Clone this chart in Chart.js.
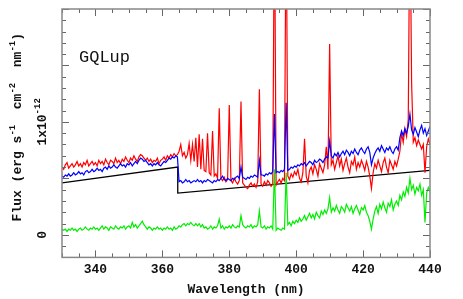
<!DOCTYPE html>
<html>
<head>
<meta charset="utf-8">
<script src="https://cdn.jsdelivr.net/npm/chart.js@4.4.1/dist/chart.umd.min.js"></script>
<style>
  html, body { margin: 0; padding: 0; background: #fff; }
  #wrap { width: 463px; height: 299px; }
</style>
</head>
<body>
<div id="wrap"><canvas id="spec"></canvas></div>
<script>
// Spectrum sampled every 0.5 nm from 330 to 440 nm, flux in units of 1e-12
const waveStart = 330;
const waveStep = 0.5;

// observed spectrum (red)
const redFlux = [
  0.60,0.58,0.62,0.64,0.59,0.61,0.63,0.60,0.62,0.65,0.61,0.63,0.60,0.64,0.62,0.66,0.61,0.63,0.65,0.62,
  0.64,0.61,0.66,0.63,0.65,0.62,0.67,0.64,0.62,0.66,0.65,0.63,0.68,0.64,0.66,0.63,0.67,0.65,0.69,0.66,
  0.64,0.68,0.66,0.70,0.67,0.65,0.69,0.71,0.70,0.68,0.66,0.68,0.65,0.67,0.64,0.66,0.65,0.68,0.63,0.66,
  0.67,0.69,0.66,0.70,0.68,0.71,0.69,0.72,0.70,0.71,0.74,0.80,0.70,0.73,0.68,0.71,0.81,0.66,0.80,0.65,
  0.86,0.60,0.89,0.58,0.85,0.57,0.56,0.90,0.55,0.53,0.92,0.52,0.54,0.50,1.12,0.50,0.48,0.51,0.47,0.49,
  1.15,0.48,0.46,0.50,0.47,0.45,0.48,1.18,0.46,0.44,0.42,0.41,0.44,0.46,0.43,0.45,0.42,0.47,1.29,0.45,
  0.43,0.47,0.44,0.48,0.46,0.43,0.45,3.00,0.44,0.47,0.49,0.46,0.50,0.48,3.00,0.52,0.49,0.54,0.51,0.56,
  0.53,0.58,0.50,0.47,0.55,0.85,0.52,0.46,0.57,0.60,0.54,0.62,0.58,0.52,0.63,0.59,0.55,0.62,0.78,0.58,
  1.69,0.62,0.66,0.58,0.64,0.70,0.61,0.67,0.57,0.63,0.68,0.60,0.55,0.65,0.62,0.69,0.58,0.64,0.60,0.66,
  0.62,0.57,0.65,0.60,0.52,0.41,0.55,0.63,0.59,0.66,0.61,0.56,0.64,0.68,0.60,0.55,0.66,0.62,0.58,0.65,
  0.61,0.67,0.74,0.90,0.82,0.94,0.87,1.02,3.00,1.35,0.82,0.86,0.79,0.84,0.80,0.76,0.80,0.55,0.78,0.85,
  0.80
];

// model / comparison spectrum (blue)
const blueFlux = [
  0.52,0.51,0.53,0.52,0.54,0.52,0.53,0.55,0.53,0.54,0.56,0.54,0.55,0.53,0.56,0.57,0.55,0.56,0.58,0.56,
  0.57,0.59,0.57,0.58,0.56,0.59,0.60,0.58,0.61,0.59,0.60,0.62,0.60,0.59,0.61,0.63,0.61,0.62,0.60,0.63,
  0.62,0.64,0.61,0.63,0.65,0.63,0.66,0.68,0.67,0.65,0.66,0.64,0.62,0.63,0.61,0.63,0.62,0.64,0.62,0.61,
  0.63,0.65,0.64,0.66,0.68,0.67,0.69,0.68,0.70,0.69,0.47,0.48,0.46,0.47,0.49,0.47,0.48,0.46,0.47,0.48,
  0.47,0.49,0.47,0.48,0.46,0.48,0.47,0.49,0.48,0.47,0.46,0.48,0.47,0.49,0.48,0.50,0.52,0.49,0.48,0.50,
  0.49,0.48,0.50,0.49,0.51,0.52,0.50,0.60,0.51,0.50,0.49,0.51,0.50,0.52,0.51,0.53,0.52,0.51,0.66,0.53,
  0.53,0.52,0.54,0.53,0.55,0.54,0.56,1.07,0.55,0.56,0.55,0.57,0.56,0.58,1.17,0.57,0.58,0.60,0.59,0.61,
  0.60,0.62,0.61,0.63,0.62,0.64,0.61,0.63,0.65,0.64,0.62,0.66,0.64,0.65,0.67,0.66,0.64,0.67,0.69,0.68,
  0.83,0.70,0.68,0.72,0.70,0.73,0.69,0.72,0.74,0.71,0.75,0.73,0.70,0.74,0.72,0.76,0.73,0.71,0.75,0.77,
  0.74,0.72,0.76,0.78,0.73,0.62,0.68,0.72,0.75,0.77,0.74,0.79,0.76,0.73,0.77,0.75,0.78,0.74,0.72,0.76,
  0.78,0.75,0.86,0.92,0.88,0.94,0.90,0.96,1.07,0.93,0.89,0.95,0.91,0.87,0.93,0.97,0.90,0.94,0.88,0.92,
  0.96
];

// difference / excess (green)
const greenFlux = [
  0.05,0.04,0.05,0.03,0.05,0.04,0.06,0.04,0.05,0.03,0.05,0.06,0.04,0.05,0.07,0.05,0.04,0.06,0.05,0.07,
  0.05,0.06,0.04,0.06,0.08,0.05,0.07,0.06,0.04,0.07,0.06,0.05,0.08,0.06,0.05,0.07,0.06,0.08,0.05,0.07,
  0.08,0.06,0.11,0.07,0.09,0.06,0.08,0.10,0.12,0.09,0.07,0.05,0.07,0.06,0.04,0.06,0.05,0.07,0.05,0.06,
  0.04,0.06,0.05,0.07,0.05,0.06,0.04,0.07,0.05,0.06,0.08,0.07,0.09,0.10,0.08,0.10,0.09,0.11,0.09,0.08,
  0.10,0.08,0.10,0.07,0.09,0.06,0.07,0.05,0.06,0.08,0.05,0.07,0.06,0.08,0.14,0.06,0.08,0.05,0.07,0.06,
  0.08,0.06,0.09,0.07,0.06,0.08,0.07,0.17,0.09,0.07,0.06,0.08,0.07,0.09,0.06,0.08,0.07,0.09,0.21,0.07,
  0.06,0.08,0.05,0.07,0.06,0.08,0.05,0.58,0.04,0.06,0.05,0.04,0.06,0.05,0.55,0.09,0.11,0.08,0.12,0.10,
  0.13,0.11,0.15,0.12,0.14,0.17,0.13,0.16,0.19,0.15,0.18,0.14,0.20,0.17,0.15,0.21,0.18,0.22,0.19,0.23,
  0.33,0.20,0.24,0.21,0.26,0.22,0.19,0.25,0.23,0.20,0.27,0.24,0.21,0.25,0.19,0.23,0.26,0.22,0.18,0.24,
  0.22,0.26,0.20,0.17,0.12,0.05,0.14,0.21,0.25,0.19,0.27,0.23,0.29,0.24,0.20,0.28,0.25,0.31,0.22,0.27,
  0.30,0.26,0.35,0.31,0.38,0.34,0.42,0.37,0.50,0.40,0.44,0.36,0.42,0.39,0.45,0.35,0.40,0.11,0.37,0.42,
  0.38
];

// continuum (black), with the step at the Balmer jump
const contWave = [330, 364.6, 364.6, 440];
const contFlux = [0.46, 0.60, 0.37, 0.57];

const xTickLabels = [340, 360, 380, 400, 420, 440];
const yTickLabels = [0, 1];

const fontFam = "'Liberation Mono', 'DejaVu Sans Mono', monospace";

function toPoints(flux) {
    return flux.map((f, i) => ({ x: waveStart + i * waveStep, y: f }));
}

// frame, inside tick marks, rotated y labels and the object name
const framePlugin = {
    id: 'frame',
    afterDatasetsDraw(chart) {
        const ctx = chart.ctx;
        const a = chart.chartArea;
        const x = chart.scales.x;
        const y = chart.scales.y;
        ctx.save();

        ctx.strokeStyle = '#666';
        ctx.lineWidth = 1;
        // x ticks every 5 nm, long every 20 nm
        for (let w = 330; w <= 440; w += 5) {
            const px = Math.round(x.getPixelForValue(w)) + 0.5;
            const len = (w % 20 === 0) ? 7 : 4;
            ctx.beginPath();
            ctx.moveTo(px, a.bottom); ctx.lineTo(px, a.bottom - len);
            ctx.moveTo(px, a.top); ctx.lineTo(px, a.top + len);
            ctx.stroke();
        }
        // y ticks every 0.1, long every 0.5
        for (let k = -2; k <= 20; k++) {
            const py = Math.round(y.getPixelForValue(k / 10)) + 0.5;
            const len = (k % 5 === 0) ? 7 : 4;
            ctx.beginPath();
            ctx.moveTo(a.left, py); ctx.lineTo(a.left + len, py);
            ctx.moveTo(a.right, py); ctx.lineTo(a.right - len, py);
            ctx.stroke();
        }

        ctx.strokeStyle = '#888';
        ctx.lineWidth = 1.5;
        ctx.strokeRect(a.left, a.top, a.right - a.left, a.bottom - a.top);

        ctx.fillStyle = '#111';
        ctx.textBaseline = 'middle';

        // y tick labels, rotated
        yTickLabels.forEach(v => {
            const py = y.getPixelForValue(v);
            ctx.save();
            ctx.translate(43, py);
            ctx.rotate(-Math.PI / 2);
            if (v === 0) {
                ctx.font = 'bold 13px ' + fontFam;
                ctx.textAlign = 'center';
                ctx.fillText('0', 0, 0);
            } else {
                drawRich(ctx, [['1x10', false], ['-12', true]], 0, 0, 13, 9);
            }
            ctx.restore();
        });

        // y axis title
        ctx.save();
        ctx.translate(18, (a.top + a.bottom) / 2 - 6);
        ctx.rotate(-Math.PI / 2);
        drawRich(ctx, [['Flux (erg s', false], ['-1', true], ['  cm', false], ['-2', true],
                       ['  nm', false], ['-1', true], [')', false]], 0, 0, 13, 9);
        ctx.restore();

        // object name
        ctx.font = '17px ' + fontFam;
        ctx.textAlign = 'left';
        ctx.fillText('GQLup', 79, 57);

        ctx.restore();
    }
};

// draws text with superscript pieces, centred on (cx, cy)
function drawRich(ctx, parts, cx, cy, big, small) {
    let total = 0;
    const widths = parts.map(([t, sup]) => {
        ctx.font = 'bold ' + (sup ? small : big) + 'px ' + fontFam;
        const w = ctx.measureText(t).width;
        total += w;
        return w;
    });
    let pos = cx - total / 2;
    ctx.textAlign = 'left';
    parts.forEach(([t, sup], i) => {
        ctx.font = 'bold ' + (sup ? small : big) + 'px ' + fontFam;
        ctx.fillText(t, pos, sup ? cy - 5 : cy);
        pos += widths[i];
    });
}

new Chart(document.getElementById('spec'), {
    type: 'line',
    data: {
        datasets: [
            { data: contWave.map((w, i) => ({ x: w, y: contFlux[i] })), borderColor: '#000', borderWidth: 1.3 },
            { data: toPoints(redFlux), borderColor: '#ff0000', borderWidth: 1.2 },
            { data: toPoints(blueFlux), borderColor: '#0000ff', borderWidth: 1.2 },
            { data: toPoints(greenFlux), borderColor: '#00ee00', borderWidth: 1.2 }
        ].map((d, i) => Object.assign(d, { pointRadius: 0, tension: 0, fill: false, order: 4 - i }))
    },
    options: {
        responsive: true,
        maintainAspectRatio: false,
        animation: false,
        events: [],
        layout: { padding: { left: 62, right: 33, top: 9, bottom: 0 } },
        plugins: { legend: { display: false }, tooltip: { enabled: false } },
        scales: {
            x: {
                type: 'linear',
                min: 330,
                max: 440,
                afterBuildTicks: s => { s.ticks = xTickLabels.map(v => ({ value: v })); },
                grid: { display: false, drawTicks: false },
                border: { display: false },
                ticks: { color: '#111', font: { family: fontFam, size: 13, weight: 'bold', lineHeight: 1 }, padding: 6, maxRotation: 0 },
                title: {
                    display: true,
                    text: 'Wavelength (nm)',
                    color: '#111',
                    font: { family: fontFam, size: 13, weight: 'bold', lineHeight: 1.2 },
                    padding: { top: 0, bottom: 1 }
                }
            },
            y: {
                type: 'linear',
                min: -0.2,
                max: 2.0,
                display: false
            }
        }
    },
    plugins: [framePlugin]
});
</script>
</body>
</html>
